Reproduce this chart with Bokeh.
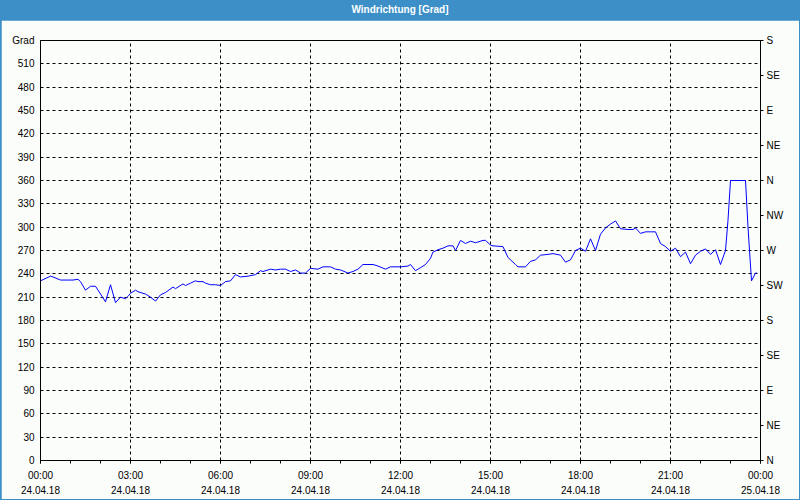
import pandas as pd
from bokeh.plotting import figure
from bokeh.models import (Range1d, LinearAxis, DatetimeAxis, FixedTicker,
                          DatetimeTickFormatter, Div)
from bokeh.layouts import column
from bokeh.embed import file_html
from bokeh.resources import INLINE

DATE = "2018-04-24"
times = ["00:00", "00:20", "00:25", "00:40", "01:05", "01:15", "01:20", "01:30", "01:40", "01:50",
         "02:00", "02:10", "02:20", "02:30", "02:40", "02:50", "02:55", "03:00", "03:10", "03:15",
         "03:30", "03:40", "03:50", "04:00", "04:10", "04:25", "04:30", "04:45", "04:50", "05:00",
         "05:10", "05:15", "05:25", "05:30", "05:40", "05:50", "06:00", "06:10", "06:20", "06:30",
         "06:40", "06:55", "07:10", "07:20", "07:25", "07:40", "07:50", "08:00", "08:10", "08:20",
         "08:30", "08:40", "08:50", "09:00", "09:15", "09:25", "09:40", "09:50", "10:00", "10:15",
         "10:25", "10:35", "10:45", "11:05", "11:15", "11:30", "11:40", "12:00", "12:15", "12:20",
         "12:30", "12:40", "12:50", "13:00", "13:05", "13:15", "13:25", "13:35", "13:45", "13:50",
         "14:00", "14:10", "14:20", "14:30", "14:45", "14:50", "15:00", "15:05", "15:25", "15:35",
         "15:50", "15:55", "16:10", "16:20", "16:30", "16:40", "16:55", "17:05", "17:20", "17:30",
         "17:40", "17:50", "18:00", "18:10", "18:20", "18:30", "18:40", "18:50", "19:00", "19:10",
         "19:20", "19:35", "19:45", "19:50", "20:00", "20:10", "20:20", "20:30", "20:40", "20:50",
         "21:00", "21:10", "21:20", "21:30", "21:40", "21:50", "22:00", "22:10", "22:20", "22:30",
         "22:40", "22:50", "22:55", "23:00", "23:30", "23:35", "23:42", "23:50", "23:53"]
values = [231, 237, 236, 232, 232, 233, 230, 219, 224, 224,
          214, 204, 226, 203, 210, 208, 211, 215, 219, 217,
          214, 210, 205, 213, 216, 223, 221, 227, 225, 228,
          231, 230, 230, 228, 226, 226, 225, 230, 231, 239,
          236, 237, 239, 244, 243, 246, 245, 246, 246, 243,
          245, 241, 241, 247, 246, 249, 249, 246, 245, 241,
          243, 246, 252, 252, 250, 246, 249, 249, 250, 252,
          244, 248, 252, 260, 268, 271, 273, 276, 276, 270,
          283, 279, 282, 280, 283, 283, 277, 276, 275, 261,
          252, 249, 249, 256, 258, 264, 265, 266, 264, 255,
          258, 270, 273, 269, 285, 270, 291, 299, 304, 308,
          298, 297, 297, 299, 292, 294, 294, 294, 279, 275,
          269, 273, 262, 268, 253, 264, 269, 272, 265, 271,
          252, 270, 309, 360, 360, 300, 231, 241, 241]

y_ticks = list(range(0, 541, 30))
y_top_label = "Grad"
compass_ticks = list(range(0, 541, 45))
compass_labels = ["N", "NE", "E", "SE", "S", "SW", "W", "NW", "N", "NE", "E", "SE", "S"]
x_start = "2018-04-24 00:00"
x_end = "2018-04-25 00:00"
title_text = "Windrichtung [Grad]"

BLUE = "#3c8fc7"
BG = "#fbfdfb"
FONT = "Liberation Sans"
FS = "10px"

dts = pd.to_datetime([f"{DATE} {t}" for t in times])
t0 = pd.Timestamp(x_start)
t1 = pd.Timestamp(x_end)
major_ms = [ts.value // 10**6 for ts in pd.date_range(t0, t1, freq="3h")]
minor_ms = [ts.value // 10**6 for ts in pd.date_range(t0, t1, freq="1h")]
xticker = FixedTicker(ticks=major_ms, minor_ticks=minor_ms)

p = figure(width=798, height=479, x_axis_type="datetime",
           x_range=Range1d(t0, t1), y_range=Range1d(0, 540),
           output_backend="svg", toolbar_location=None,
           min_border_left=39, min_border_right=39, min_border_top=20, min_border_bottom=39,
           background_fill_color=BG, border_fill_color=BG)
p.margin = (0, 1, 1, 1)
p.outline_line_color = "black"
p.outline_line_width = 1

# bottom axis: time
ax = p.xaxis[0]
ax.ticker = xticker
ax.formatter = DatetimeTickFormatter(hours="%H:%M", hourmin="%H:%M", days="%H:%M",
                                     minutes="%H:%M", minsec="%H:%M")
ax.major_tick_out = 3
ax.major_tick_in = 0
ax.minor_tick_out = 3
ax.minor_tick_in = 0
ax.axis_line_color = "black"
ax.major_tick_line_color = "black"
ax.minor_tick_line_color = "black"
ax.major_label_text_font = FONT
ax.major_label_text_font_size = FS
ax.major_label_text_color = "black"
ax.major_label_standoff = 6

# second bottom axis: date
ax2 = DatetimeAxis(ticker=xticker,
                   formatter=DatetimeTickFormatter(hours="%d.%m.%y", hourmin="%d.%m.%y",
                                                   days="%d.%m.%y", minutes="%d.%m.%y",
                                                   minsec="%d.%m.%y"),
                   axis_line_color=None, major_tick_line_color=None,
                   minor_tick_line_color=None, major_tick_out=0, minor_tick_out=0,
                   major_tick_in=0, minor_tick_in=0,
                   major_label_standoff=2,
                   major_label_text_font=FONT, major_label_text_font_size=FS,
                   major_label_text_color="black")
p.add_layout(ax2, "below")

# left axis
ay = p.yaxis[0]
ay.ticker = FixedTicker(ticks=y_ticks)
ay.major_label_overrides = {540: y_top_label}
ay.major_tick_out = 0
ay.major_tick_in = 0
ay.major_tick_line_color = None
ay.minor_tick_line_color = None
ay.axis_line_color = "black"
ay.major_label_text_font = FONT
ay.major_label_text_font_size = FS
ay.major_label_text_color = "black"
ay.major_label_standoff = 6

# right axis: compass
p.extra_y_ranges = {"compass": Range1d(0, 540)}
ar = LinearAxis(y_range_name="compass", ticker=FixedTicker(ticks=compass_ticks),
                major_label_overrides={t: l for t, l in zip(compass_ticks, compass_labels)},
                major_tick_out=3, major_tick_in=0, minor_tick_line_color=None,
                axis_line_color="black", major_tick_line_color="black",
                major_label_standoff=3,
                major_label_text_font=FONT, major_label_text_font_size=FS,
                major_label_text_color="black")
p.add_layout(ar, "right")

p.xgrid.ticker = FixedTicker(ticks=major_ms)
p.ygrid.ticker = FixedTicker(ticks=y_ticks)
for g in (p.xgrid[0], p.ygrid[0]):
    g.grid_line_color = "black"
    g.grid_line_dash = "3 3"
    g.grid_line_width = 1

p.line(x=dts, y=values, line_color="#0000ff", line_width=1)

div = Div(text=f'<div style="width:800px;height:20px;line-height:20px;text-align:center;'
               f'color:white;font-weight:bold;font-size:10px;font-family:\'{FONT}\';">{title_text}</div>',
          width=800, height=20, margin=0,
          styles={"background-color": BLUE})

layout = column(div, p, margin=0, spacing=0, styles={"background-color": BLUE})

open("out.html", "w").write(file_html(layout, INLINE))
